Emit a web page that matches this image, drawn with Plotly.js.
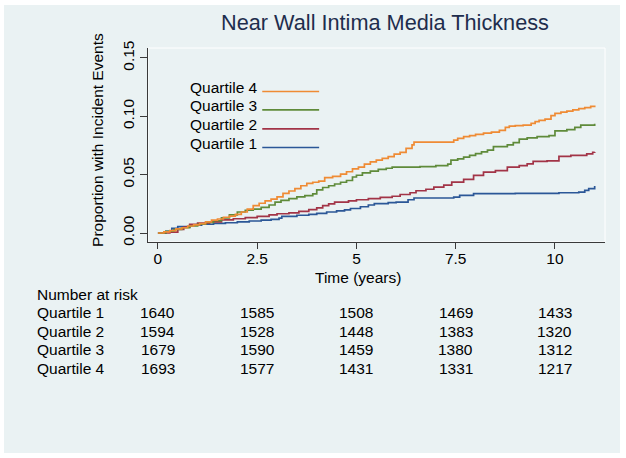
<!DOCTYPE html>
<html>
<head>
<meta charset="utf-8">
<script src="https://cdn.plot.ly/plotly-3.0.1.min.js"></script>
<style>
  body { margin: 0; background: #ffffff; }
  #chart { position: absolute; left: 4px; top: 5px; width: 616px; height: 448px; }
</style>
</head>
<body>
<div id="chart"></div>
<script>
// cumulative incidence by quartile
var q1_x = [0, 0.2, 0.35, 0.5, 0.8, 1.1, 1.4, 1.7, 2.0, 2.3, 2.6, 2.85, 3.05, 3.12, 3.5, 3.8, 4.0, 4.25, 4.5, 4.7, 4.85, 5.1, 5.3, 5.45, 5.8, 6.0, 6.3, 6.45, 7.45, 7.6, 7.95, 9.0, 10.1, 10.6, 10.75, 10.85, 11.0]
var q1_y = [0, 0.0015, 0.004, 0.0055, 0.0068, 0.0075, 0.0082, 0.0088, 0.0096, 0.0103, 0.011, 0.0117, 0.0128, 0.0143, 0.0152, 0.016, 0.0168, 0.018, 0.019, 0.0198, 0.021, 0.0225, 0.024, 0.0252, 0.026, 0.0265, 0.0285, 0.030, 0.0308, 0.0322, 0.0337, 0.034, 0.0345, 0.035, 0.0365, 0.038, 0.0402]

var q2_x = [0, 0.3, 0.5, 0.65, 0.8, 1.0, 1.3, 1.6, 1.9, 2.2, 2.5, 2.8, 3.0, 3.3, 3.55, 3.8, 4.0, 4.15, 4.3, 4.45, 4.8, 5.0, 5.3, 5.6, 5.9, 6.1, 6.35, 6.5, 6.75, 6.95, 7.2, 7.4, 7.7, 7.95, 8.2, 8.5, 8.8, 9.1, 9.3, 9.45, 9.8, 10.1, 10.4, 10.8, 10.95, 11.0]
var q2_y = [0, 0.0008, 0.003, 0.005, 0.0075, 0.0085, 0.0095, 0.0112, 0.0122, 0.0132, 0.0143, 0.0155, 0.0165, 0.0172, 0.0185, 0.0200, 0.0215, 0.0235, 0.025, 0.0265, 0.0275, 0.0285, 0.0295, 0.0305, 0.0315, 0.033, 0.0345, 0.0362, 0.0375, 0.0393, 0.041, 0.0436, 0.046, 0.0493, 0.0521, 0.0535, 0.0564, 0.0578, 0.0593, 0.0613, 0.0618, 0.0656, 0.0665, 0.0678, 0.0692, 0.0695]

var q3_x = [0, 0.2, 0.4, 0.6, 0.8, 1.0, 1.2, 1.4, 1.6, 1.8, 2.0, 2.2, 2.4, 2.6, 2.8, 2.95, 3.1, 3.3, 3.5, 3.7, 3.9, 4.0, 4.15, 4.3, 4.45, 4.6, 4.75, 4.9, 5.0, 5.15, 5.35, 5.55, 5.75, 5.9, 6.6, 7.0, 7.3, 7.38, 7.55, 7.7, 7.85, 8.0, 8.15, 8.3, 8.45, 8.8, 8.95, 9.1, 9.3, 9.55, 9.85, 10.0, 10.3, 10.5, 10.65, 11.0]
var q3_y = [0, 0.0015, 0.003, 0.0045, 0.006, 0.0075, 0.009, 0.0105, 0.013, 0.0155, 0.018, 0.0195, 0.0205, 0.022, 0.024, 0.0265, 0.028, 0.0295, 0.031, 0.032, 0.0335, 0.037, 0.039, 0.0405, 0.042, 0.0435, 0.045, 0.048, 0.0495, 0.0515, 0.053, 0.0545, 0.0555, 0.0565, 0.0568, 0.0578, 0.059, 0.0625, 0.0635, 0.065, 0.0665, 0.068, 0.0695, 0.071, 0.074, 0.0755, 0.0775, 0.0805, 0.0815, 0.0825, 0.0835, 0.0875, 0.0885, 0.0905, 0.0925, 0.0935]

var q4_x = [0, 0.15, 0.3, 0.45, 0.6, 0.75, 0.9, 1.05, 1.2, 1.35, 1.5, 1.65, 1.8, 1.95, 2.1, 2.25, 2.4, 2.55, 2.7, 2.85, 3.0, 3.15, 3.3, 3.45, 3.6, 3.75, 3.9, 4.05, 4.2, 4.4, 4.6, 4.75, 4.9, 5.05, 5.2, 5.35, 5.5, 5.65, 5.8, 5.95, 6.1, 6.25, 6.4, 6.45, 7.45, 7.55, 7.7, 7.85, 8.0, 8.2, 8.4, 8.6, 8.75, 8.85, 9.0, 9.2, 9.4, 9.5, 9.6, 9.75, 9.9, 10.0, 10.15, 10.3, 10.45, 10.6, 10.75, 10.9, 11.0]
var q4_y = [0, 0.001, 0.002, 0.0035, 0.0045, 0.006, 0.007, 0.008, 0.0095, 0.011, 0.012, 0.0135, 0.0145, 0.016, 0.018, 0.0205, 0.0235, 0.0255, 0.0275, 0.029, 0.031, 0.034, 0.036, 0.038, 0.0405, 0.0425, 0.0435, 0.0445, 0.0475, 0.0485, 0.0505, 0.0525, 0.055, 0.0565, 0.059, 0.061, 0.0625, 0.064, 0.0655, 0.0675, 0.069, 0.0725, 0.0755, 0.0778, 0.0795, 0.081, 0.0825, 0.0835, 0.0845, 0.0855, 0.0865, 0.088, 0.0905, 0.0915, 0.092, 0.0925, 0.094, 0.0955, 0.0965, 0.0975, 0.1005, 0.1025, 0.1035, 0.1045, 0.1055, 0.1065, 0.1075, 0.1085, 0.1092]

// number at risk table
var risk_times = [0, 2.5, 5, 7.5, 10]
var risk_q1 = [1640, 1585, 1508, 1469, 1433]
var risk_q2 = [1594, 1528, 1448, 1383, 1320]
var risk_q3 = [1679, 1590, 1459, 1380, 1312]
var risk_q4 = [1693, 1577, 1431, 1331, 1217]

var names = ['Quartile 1', 'Quartile 2', 'Quartile 3', 'Quartile 4']
var colors = ['#2b5797', '#a23447', '#5f8b3a', '#ef8b34']

var FONT = 'Liberation Sans, Arial, Helvetica, sans-serif'
var bg = '#eaf2f3'

// page pixel -> paper coords (plot area is 147.5..605 x 47.7..241.7 on the page)
function px(x) { return (x - 147.5) / 458 }
function py(y) { return (241.7 - y) / 194 }

var xs = [q1_x, q2_x, q3_x, q4_x]
var ys = [q1_y, q2_y, q3_y, q4_y]
var traces = []
for (var i = 0; i < 4; i++) {
    traces.push({
        x: xs[i], y: ys[i], name: names[i],
        type: 'scatter', mode: 'lines',
        line: {shape: 'hv', color: colors[i], width: 1.7},
        showlegend: false
    })
}

var annotations = []
var shapes = []

// legend: text then line, top row is Quartile 4
var legendText = [142.7, 124, 105, 86.7]
for (var i = 3; i >= 0; i--) {
    annotations.push({
        xref: 'paper', yref: 'paper', x: px(188), y: py(legendText[i]),
        xanchor: 'left', yanchor: 'middle', showarrow: false,
        text: names[i], font: {family: FONT, size: 15.5, color: '#000'}
    })
    shapes.push({
        type: 'line', xref: 'paper', yref: 'paper',
        x0: px(262), x1: px(319), y0: py(legendText[i] + 4.5), y1: py(legendText[i] + 4.5),
        line: {color: colors[i], width: 1.7}
    })
}

// white outline of plot region
shapes.push({
    type: 'rect', xref: 'paper', yref: 'paper', x0: 0, x1: 1, y0: 0, y1: 1,
    line: {color: '#ffffff', width: 1}, layer: 'below'
})

// axis titles
annotations.push({
    xref: 'paper', yref: 'paper', x: px(358), y: py(277),
    xanchor: 'center', yanchor: 'middle', showarrow: false,
    text: 'Time (years)', font: {family: FONT, size: 15.5, color: '#000'}
})
annotations.push({
    xref: 'paper', yref: 'paper', x: px(97), y: py(140),
    xanchor: 'center', yanchor: 'middle', showarrow: false, textangle: -90,
    text: 'Proportion with Incident Events', font: {family: FONT, size: 15.5, color: '#000'}
})

// number at risk
annotations.push({
    xref: 'paper', yref: 'paper', x: px(34), y: py(294),
    xanchor: 'left', yanchor: 'middle', showarrow: false,
    text: 'Number at risk', font: {family: FONT, size: 15.5, color: '#000'}
})
var riskRows = [risk_q1, risk_q2, risk_q3, risk_q4]
var rowY = [312.5, 331, 349.5, 368]
for (var r = 0; r < 4; r++) {
    annotations.push({
        xref: 'paper', yref: 'paper', x: px(34), y: py(rowY[r]),
        xanchor: 'left', yanchor: 'middle', showarrow: false,
        text: names[r], font: {family: FONT, size: 15.5, color: '#000'}
    })
    for (var c = 0; c < risk_times.length; c++) {
        annotations.push({
            xref: 'x', yref: 'paper', x: risk_times[c], y: py(rowY[r]),
            xanchor: 'center', yanchor: 'middle', showarrow: false,
            text: String(riskRows[r][c]), font: {family: FONT, size: 15.5, color: '#000'}
        })
    }
}

var layout = {
    width: 616, height: 448,
    margin: {l: 143.5, r: 15, t: 42.7, b: 211.3},
    paper_bgcolor: bg, plot_bgcolor: bg,
    font: {family: FONT, size: 15.5, color: '#000'},
    title: {
        text: 'Near Wall Intima Media Thickness',
        font: {family: FONT, size: 21.7, color: '#1e2d4d'},
        x: (385 - 4) / 616, xanchor: 'center', xref: 'container',
        y: 1 - (22 - 5) / 448, yanchor: 'middle', yref: 'container'
    },
    xaxis: {
        range: [-0.25, 11.26], tickvals: risk_times, ticktext: ['0', '2.5', '5', '7.5', '10'],
        showgrid: false, zeroline: false, showline: true, linecolor: '#3a3a3a', linewidth: 1,
        ticks: 'outside', ticklen: 6, tickcolor: '#3a3a3a', tickwidth: 1, ticklabelstandoff: -4,
        tickfont: {family: FONT, size: 15.5, color: '#000'}
    },
    yaxis: {
        range: [-0.0077, 0.1585], tickvals: [0, 0.05, 0.10, 0.15], tickformat: '.2f',
        showgrid: false, zeroline: false, showline: true, linecolor: '#3a3a3a', linewidth: 1,
        ticks: 'outside', ticklen: 7, tickcolor: '#3a3a3a', tickwidth: 1, tickangle: -90,
        tickfont: {family: FONT, size: 15.5, color: '#000'}
    },
    annotations: annotations,
    shapes: shapes
}

Plotly.newPlot('chart', traces, layout, {displayModeBar: false, staticPlot: true})
</script>
</body>
</html>
